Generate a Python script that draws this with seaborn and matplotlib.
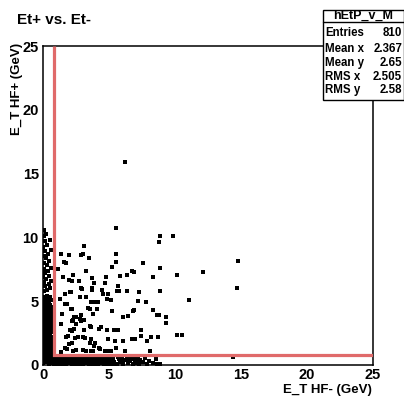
import numpy as np
import pandas as pd
import matplotlib
matplotlib.use("Agg")
import matplotlib.pyplot as plt
import seaborn as sns

# ---- scattered events in the open region -------------------------------
open_x = [6.21, 5.55, 8.86, 9.82, 8.81, 3.13, 1.94, 3.00, 2.88, 3.48, 5.55, 1.34,
          1.59, 1.74, 5.55, 5.25, 7.55, 8.86, 3.26, 6.72, 6.92, 1.49, 2.27, 1.99,
          2.17, 3.74, 4.80, 5.86, 6.34, 8.33, 10.15, 12.12, 14.77, 14.67, 2.73, 3.84,
          4.72, 5.68, 2.86, 2.95, 3.69, 3.74, 2.02, 2.12, 5.63, 5.78, 6.34, 8.86,
          4.57, 4.92, 4.50, 7.27, 1.69, 2.80, 3.26, 1.29, 1.10, 3.66, 3.77, 3.86,
          4.14, 4.83, 5.13, 7.22, 7.83, 11.04, 1.69, 1.80, 2.10, 2.20, 3.41, 3.58,
          4.07, 5.23, 6.79, 6.92, 8.33, 1.44, 2.35, 2.50, 2.86, 3.79, 6.08, 6.45,
          8.66, 8.81, 9.34, 9.32, 2.20, 2.30, 2.80, 2.90, 3.13, 1.39, 2.50, 3.54,
          3.61, 4.39, 2.05, 2.20, 2.33, 3.11, 4.24, 4.83, 5.36, 5.48, 5.66, 7.40,
          4.90, 1.74, 1.89, 2.45, 2.65, 3.05, 3.16, 3.66, 5.43, 6.04, 6.74, 6.97,
          7.40, 7.90, 8.20, 8.71, 10.13, 10.55, 1.99, 2.20, 3.56, 3.84, 3.92, 4.24,
          4.34, 1.64, 1.80, 3.05, 3.26, 3.66, 3.81, 4.72, 4.98, 5.17, 5.53, 6.19,
          8.13, 2.30, 2.50, 1.34, 14.37, 6.84, 7.10, 7.35, 8.66]
open_y = [15.90, 10.70, 10.13, 10.13, 9.64, 9.33, 8.62, 8.67, 8.62, 8.41, 8.72, 8.72,
          8.07, 7.97, 8.05, 7.70, 7.97, 7.63, 7.39, 7.39, 7.29, 6.92, 7.05, 6.64,
          6.58, 6.84, 6.92, 6.97, 7.03, 6.92, 7.08, 7.29, 8.17, 6.01, 6.61, 6.40,
          6.40, 6.19, 6.01, 5.96, 6.01, 5.88, 5.70, 5.74, 5.77, 5.77, 5.77, 5.80,
          5.56, 5.56, 5.90, 5.72, 5.56, 5.30, 5.35, 5.15, 7.50, 4.96, 4.96, 4.96,
          4.96, 5.17, 5.09, 4.99, 4.94, 5.09, 4.75, 4.78, 4.41, 4.41, 4.44, 4.39,
          4.41, 4.21, 4.26, 4.31, 4.28, 3.97, 3.79, 3.79, 3.94, 3.97, 3.79, 3.85,
          3.89, 3.89, 3.79, 3.32, 3.47, 3.53, 3.58, 3.45, 3.53, 3.21, 3.21, 3.06,
          2.95, 3.00, 2.74, 2.69, 2.80, 2.74, 2.80, 2.74, 2.74, 2.74, 2.77, 2.74,
          2.06, 2.22, 2.27, 2.14, 2.22, 2.22, 2.09, 2.01, 1.90, 1.90, 2.01, 2.06,
          2.25, 1.90, 2.20, 2.17, 2.35, 2.35, 1.65, 1.70, 1.70, 1.49, 1.70, 1.33,
          1.28, 1.36, 1.28, 1.15, 1.10, 1.12, 1.07, 1.10, 1.10, 1.10, 1.33, 1.10,
          1.12, 1.10, 1.15, 1.02, 0.65, 0.45, 0.29, 0.39, 0.10]

# ---- events with small E_T in HF- (left band) --------------------------
left_x = [0.03, 0.22, 0.43, 0.61, 0.12, 0.32, 0.53, 0.70, 0.07, 0.27, 0.47, 0.66,
          0.16, 0.37, 0.57, 0.01, 0.04, 0.24, 0.41, 0.63, 0.13, 0.30, 0.55, 0.69,
          0.06, 0.28, 0.45, 0.64, 0.17, 0.36, 0.58, 0.02, 0.05, 0.21, 0.44, 0.60,
          0.11, 0.33, 0.51, 0.71, 0.08, 0.26, 0.48, 0.67, 0.15, 0.38, 0.56, 0.03,
          0.02, 0.23, 0.42, 0.62, 0.14, 0.31, 0.54, 0.68, 0.07, 0.29, 0.46, 0.65,
          0.18, 0.35, 0.59, 0.01, 0.04, 0.20, 0.43, 0.61, 0.12, 0.34, 0.52, 0.70,
          0.09, 0.25, 0.49, 0.66, 0.16, 0.39, 0.57, 0.02, 0.05, 0.22, 0.40, 0.63,
          0.10, 0.31, 0.53, 0.69, 0.06, 0.27, 0.47, 0.64, 0.17, 0.36, 0.55, 0.03,
          0.04, 0.23, 0.44, 0.12, 0.33, 0.58, 0.08, 0.28, 0.50,
          0.05, 0.30, 0.55, 0.15, 0.42, 0.08, 0.62, 0.25, 0.02, 0.48, 0.18, 0.35,
          0.06, 0.58, 0.28, 0.10, 0.45, 0.20, 0.05, 0.38, 0.15, 0.60, 0.02, 0.30,
          0.12, 0.50, 0.08, 0.25, 0.04]
left_y = [0.15, 0.21, 0.11, 0.18, 0.35, 0.41, 0.31, 0.38, 0.55, 0.61, 0.51, 0.58,
          0.75, 0.81, 0.71, 0.78, 0.96, 1.02, 0.92, 0.99, 1.14, 1.22, 1.10, 1.17,
          1.36, 1.41, 1.32, 1.38, 1.55, 1.62, 1.51, 1.57, 1.74, 1.81, 1.72, 1.78,
          1.96, 2.01, 1.92, 1.99, 2.15, 2.22, 2.11, 2.18, 2.34, 2.41, 2.32, 2.38,
          2.56, 2.62, 2.51, 2.58, 2.75, 2.80, 2.71, 2.79, 2.94, 3.02, 2.91, 2.97,
          3.16, 3.21, 3.12, 3.18, 3.35, 3.42, 3.31, 3.37, 3.54, 3.61, 3.52, 3.58,
          3.76, 3.81, 3.71, 3.79, 3.95, 4.02, 3.92, 3.98, 4.14, 4.21, 4.12, 4.18,
          4.36, 4.41, 4.31, 4.38, 4.55, 4.62, 4.52, 4.57, 4.74, 4.81, 4.72, 4.78,
          4.96, 5.02, 4.91, 5.15, 5.21, 5.12, 5.36, 5.42, 5.33,
          5.80, 5.90, 6.05, 6.20, 6.35, 6.50, 6.60, 6.75, 6.90, 7.00, 7.20, 7.35,
          7.50, 7.60, 7.80, 8.00, 8.15, 8.35, 8.55, 8.70, 8.90, 9.05, 9.25, 9.40,
          9.70, 9.80, 10.10, 10.30, 10.60]

# ---- events with small E_T in HF+ (bottom band) ------------------------
bottom_x = [0.85, 1.07, 1.30, 1.51, 1.74, 1.95, 2.18, 2.40, 2.61, 2.83, 3.06, 3.27,
            3.49, 3.72, 3.93, 4.16, 4.37, 4.60, 4.81, 5.04, 5.26, 5.47,
            0.95, 1.18, 1.39, 1.62, 1.84, 2.06, 2.29, 2.50, 2.72, 2.95, 3.16, 3.38,
            3.60, 3.83, 4.04, 4.27, 4.48, 4.70, 4.93, 5.14, 5.37,
            0.88, 1.12, 1.33, 1.56, 1.77, 2.00, 2.22, 2.44, 2.66, 2.88, 3.10, 3.32,
            3.54, 3.76, 3.98, 4.20, 4.42, 4.64, 4.86, 5.08, 5.30,
            1.00, 1.22, 1.45, 1.67, 1.90, 2.12, 2.34, 2.56, 2.78, 3.00, 3.22, 3.44,
            3.66, 3.88, 4.10, 4.32, 4.54, 4.76, 4.98, 5.20,
            5.60, 5.72, 5.85, 5.95, 6.08, 6.20, 6.33, 6.45, 6.58, 6.70, 6.82, 6.95,
            7.05, 7.20, 7.30, 5.68, 6.00, 6.50, 7.00,
            7.55, 7.70, 7.85, 8.05, 8.30, 8.55, 8.90]
bottom_y = [0.08, 0.11, 0.06, 0.10, 0.07, 0.12, 0.05, 0.09, 0.11, 0.06, 0.08, 0.12,
            0.07, 0.10, 0.05, 0.09, 0.12, 0.07, 0.10, 0.06, 0.11, 0.08,
            0.27, 0.30, 0.25, 0.31, 0.28, 0.26, 0.32, 0.27, 0.29, 0.25, 0.30, 0.28,
            0.31, 0.26, 0.29, 0.27, 0.32, 0.25, 0.30, 0.28, 0.26,
            0.46, 0.48, 0.44, 0.49, 0.45, 0.47, 0.50, 0.44, 0.48, 0.46, 0.49, 0.45,
            0.47, 0.50, 0.44, 0.48, 0.46, 0.49, 0.45, 0.47, 0.44,
            0.65, 0.68, 0.63, 0.67, 0.64, 0.69, 0.66, 0.62, 0.68, 0.65, 0.63, 0.67,
            0.69, 0.64, 0.66, 0.62, 0.68, 0.65, 0.63, 0.66,
            0.10, 0.45, 0.25, 0.65, 0.08, 0.38, 0.55, 0.15, 0.30, 0.60, 0.05, 0.42,
            0.18, 0.50, 0.08, 0.62, 0.30, 0.50, 0.60,
            0.20, 0.55, 0.10, 0.35, 0.15, 0.45, 0.10]

# threshold cut drawn as an L-shaped line
cut_x = [0.8, 0.8, 25.0]
cut_y = [25.0, 0.8, 0.8]

axis_ticks = [0, 5, 10, 15, 20, 25]
stat_names = ["Entries", "Mean x", "Mean y", "RMS x", "RMS y"]
stat_values = ["810", "2.367", "2.65", "2.505", "2.58"]

events = pd.DataFrame({
    "etm": open_x + left_x + bottom_x,
    "etp": open_y + left_y + bottom_y,
})

sns.set_theme(style="white")
plt.rcParams["font.family"] = ["Liberation Sans", "DejaVu Sans"]
plt.rcParams["font.weight"] = "bold"
plt.rcParams["text.color"] = "black"
plt.rcParams["xtick.color"] = "black"
plt.rcParams["ytick.color"] = "black"

W, H = 404, 396
fig = plt.figure(figsize=(W / 100, H / 100), dpi=100)
fig.patch.set_facecolor("white")
L, R, T, B = 43, 373, 46, 365
ax = fig.add_axes([L / W, 1 - B / H, (R - L) / W, (B - T) / H])
ax.set_facecolor("white")

sns.scatterplot(data=events, x="etm", y="etp", ax=ax, marker="s", s=6,
                color="black", linewidth=0, legend=False, zorder=2)
ax.plot(cut_x, cut_y, color="#e06a6a", lw=2.3, solid_capstyle="butt",
        solid_joinstyle="miter", zorder=3)

ax.set_xlim(0, 25)
ax.set_ylim(0, 25)
ax.set_xticks(axis_ticks)
ax.set_yticks(axis_ticks)
ax.set_xticks(np.arange(0, 26, 1), minor=True)
ax.set_yticks(np.arange(0, 26, 1), minor=True)
ax.tick_params(which="major", direction="in", length=6, width=1.0,
               color="black", labelcolor="black", labelsize=10.5,
               top=False, right=False)
ax.tick_params(which="minor", direction="in", length=3, width=0.8,
               color="black", top=False, right=False)
ax.tick_params(axis="x", which="major", pad=2)
ax.tick_params(axis="y", which="major", pad=3)
for lab in ax.get_xticklabels() + ax.get_yticklabels():
    lab.set_fontweight("bold")
for sp in ax.spines.values():
    sp.set_color("black")
    sp.set_linewidth(1.1)
ax.set_xlabel("")
ax.set_ylabel("")

fig.text(372 / W, 1 - 390 / H, "E_T HF- (GeV)", ha="right", va="center",
         fontsize=9.5, fontweight="bold")
fig.text(17 / W, 1 - 43 / H, "E_T HF+ (GeV)", ha="center", va="top",
         rotation=90, fontsize=9.5, fontweight="bold")
fig.text(17 / W, 1 - 20 / H, "Et+ vs. Et-", ha="left", va="center",
         fontsize=11, fontweight="bold")

# statistics box
bx0, bx1, by0, by1, bsep = 323, 403.5, 10, 100, 22
box = plt.Rectangle((bx0 / W, 1 - by1 / H), (bx1 - bx0) / W, (by1 - by0) / H,
                    transform=fig.transFigure, facecolor="white",
                    edgecolor="black", lw=1.0, zorder=5)
fig.add_artist(box)
fig.add_artist(plt.Line2D([bx0 / W, bx1 / W], [1 - bsep / H, 1 - bsep / H],
                          transform=fig.transFigure, color="black", lw=1.0,
                          zorder=6))
fig.text((bx0 + bx1) / 2 / W, 1 - 15.5 / H, "hEtP_v_M", ha="center",
         va="center", fontsize=9, fontweight="bold", zorder=7)
rows_y = [33, 48.5, 63, 77, 90]
for name, val, ry in zip(stat_names, stat_values, rows_y):
    fig.text(325 / W, 1 - ry / H, name, ha="left", va="center", fontsize=8.3,
             fontweight="bold", zorder=7)
    fig.text(402 / W, 1 - ry / H, val, ha="right", va="center", fontsize=8.3,
             fontweight="bold", zorder=7)

fig.savefig("out.png", dpi=100, facecolor="white")
